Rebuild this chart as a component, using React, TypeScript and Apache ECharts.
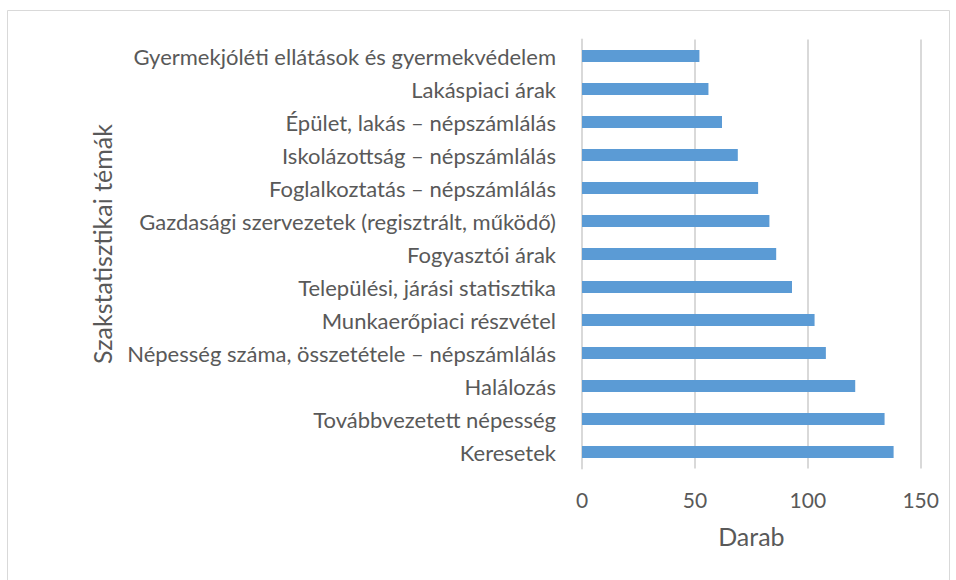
import React, { useEffect, useRef } from "react";
import * as echarts from "echarts";

const categories = [
  "Gyermekjóléti ellátások és gyermekvédelem",
  "Lakáspiaci árak",
  "Épület, lakás – népszámlálás",
  "Iskolázottság – népszámlálás",
  "Foglalkoztatás – népszámlálás",
  "Gazdasági szervezetek (regisztrált, működő)",
  "Fogyasztói árak",
  "Települési, járási statisztika",
  "Munkaerőpiaci részvétel",
  "Népesség száma, összetétele – népszámlálás",
  "Halálozás",
  "Továbbvezetett népesség",
  "Keresetek",
];
const values = [52, 56, 62, 69, 78, 83, 86, 93, 103, 108, 121, 134, 138];
const xTicks = { min: 0, max: 150, interval: 50 };
const xName = "Darab";
const yName = "Szakstatisztikai témák";

export default function App() {
  const ref = useRef<HTMLDivElement>(null);
  useEffect(() => {
    if (!ref.current) return;
    const chart = echarts.init(ref.current, null, { renderer: "svg" });
    const font = "Lato, 'Open Sans', sans-serif";
    chart.setOption({
      animation: false,
      textStyle: { fontFamily: font },
      graphic: [
        {
          type: "rect",
          shape: { x: 7.5, y: 10.5, width: 942, height: 580 },
          style: { fill: "none", stroke: "#d9d9d9", lineWidth: 1 },
          silent: true,
        },
        {
          type: "text",
          x: 102,
          y: 244,
          rotation: Math.PI / 2,
          style: {
            text: yName,
            fill: "#595959",
            font: `25px ${font}`,
            align: "center",
            verticalAlign: "middle",
          },
          silent: true,
        },
      ],
      grid: { left: 582, top: 39.5, width: 338.7, height: 429, containLabel: false },
      xAxis: {
        type: "value",
        min: xTicks.min,
        max: xTicks.max,
        interval: xTicks.interval,
        name: xName,
        nameLocation: "middle",
        nameGap: 55,
        nameTextStyle: { color: "#595959", fontSize: 25, fontFamily: font },
        axisLine: { show: false },
        axisTick: { show: false },
        axisLabel: { color: "#595959", fontSize: 21, margin: 20, fontFamily: font },
        splitLine: { show: true, lineStyle: { color: "#d9d9d9", width: 2 } },
      },
      yAxis: {
        type: "category",
        inverse: true,
        data: categories,
        axisLine: { show: true, lineStyle: { color: "#d9d9d9", width: 2 } },
        axisTick: { show: false },
        axisLabel: { color: "#595959", fontSize: 22, margin: 26, fontFamily: font },
      },
      series: [
        {
          type: "bar",
          data: values,
          barWidth: 12,
          itemStyle: { color: "#5b9bd5" },
        },
      ],
    });
    return () => chart.dispose();
  }, []);
  return (
    <div
      ref={ref}
      style={{ position: "absolute", left: 0, top: 0, width: 956, height: 580 }}
    />
  );
}
